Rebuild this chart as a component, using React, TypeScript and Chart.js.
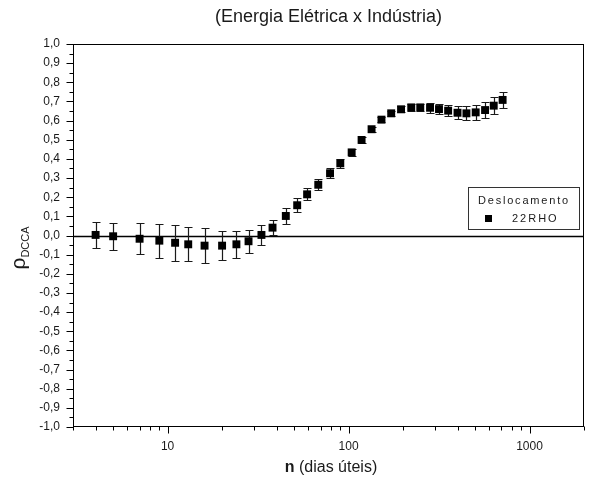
import React, { useEffect, useRef } from 'react';
import { Chart, registerables } from 'chart.js';

Chart.register(...registerables);

// ---- data ----
const nDays = [4, 5, 7, 9, 11, 13, 16, 20, 24, 28, 33, 38, 45, 52, 59, 68, 79, 90, 104, 118, 134, 152, 172, 195, 222, 249, 282, 316, 355, 400, 448, 504, 568, 634, 710];
const rhoDCCA = [0.003, -0.004, -0.017, -0.027, -0.038, -0.046, -0.053, -0.053, -0.046, -0.030, 0.003, 0.041, 0.102, 0.158, 0.215, 0.265, 0.325, 0.377, 0.434, 0.499, 0.555, 0.605, 0.638, 0.659, 0.669, 0.669, 0.667, 0.660, 0.652, 0.641, 0.638, 0.643, 0.655, 0.678, 0.708];
const rhoErr = [0.068, 0.070, 0.082, 0.088, 0.093, 0.088, 0.090, 0.076, 0.070, 0.060, 0.053, 0.040, 0.040, 0.036, 0.031, 0.030, 0.025, 0.025, 0.020, 0.015, 0.012, 0.012, 0.012, 0.015, 0.020, 0.020, 0.025, 0.025, 0.030, 0.034, 0.037, 0.040, 0.042, 0.044, 0.040];

const xMajorTicks = [10, 100, 1000];
const xMinorTicks = [3, 4, 5, 6, 7, 8, 9, 20, 30, 40, 50, 60, 70, 80, 90, 200, 300, 400, 500, 600, 700, 800, 900, 2000];
const yMajorTicks = [-1, -0.9, -0.8, -0.7, -0.6, -0.5, -0.4, -0.3, -0.2, -0.1, 0, 0.1, 0.2, 0.3, 0.4, 0.5, 0.6, 0.7, 0.8, 0.9, 1];
const yMinorTicks = [-0.95, -0.85, -0.75, -0.65, -0.55, -0.45, -0.35, -0.25, -0.15, -0.05, 0.05, 0.15, 0.25, 0.35, 0.45, 0.55, 0.65, 0.75, 0.85, 0.95];

const chartTitle = '(Energia Elétrica x Indústria)';
const xTitleBold = 'n';
const xTitleRest = ' (dias úteis)';
const yTitleMain = 'ρ';
const yTitleSub = 'DCCA';
const legendTitle = 'Deslocamento';
const seriesLabel = '22RHO';

const FONT = '"Liberation Sans", Arial, sans-serif';
const INK = '#1a1a1a';

const fmtY = (v: number) => (Math.abs(v) < 1e-9 ? '0,0' : v.toFixed(1).replace('.', ','));

const decorPlugin = {
  id: 'decor',
  beforeDatasetsDraw(chart: any) {
    const { ctx, chartArea: a, scales } = chart;
    const x = scales.x;
    const y = scales.y;
    ctx.save();
    // zero line
    const y0 = Math.round(y.getPixelForValue(0)) + 0.5;
    ctx.strokeStyle = '#000';
    ctx.lineWidth = 1.5;
    ctx.beginPath();
    ctx.moveTo(a.left, y0);
    ctx.lineTo(a.right, y0);
    ctx.stroke();
    // error bars
    ctx.strokeStyle = '#1a1a1a';
    ctx.lineWidth = 1.2;
    const cap = 4;
    nDays.forEach((n, i) => {
      const px = Math.round(x.getPixelForValue(n)) + 0.5;
      const top = Math.round(y.getPixelForValue(rhoDCCA[i] + rhoErr[i])) + 0.5;
      const bot = Math.round(y.getPixelForValue(rhoDCCA[i] - rhoErr[i])) + 0.5;
      ctx.beginPath();
      ctx.moveTo(px, top);
      ctx.lineTo(px, bot);
      ctx.moveTo(px - cap, top);
      ctx.lineTo(px + cap, top);
      ctx.moveTo(px - cap, bot);
      ctx.lineTo(px + cap, bot);
      ctx.stroke();
    });
    ctx.restore();
  },
  afterDraw(chart: any) {
    const { ctx, chartArea: a, scales } = chart;
    const x = scales.x;
    const y = scales.y;
    ctx.save();
    // frame
    ctx.strokeStyle = '#000';
    ctx.lineWidth = 1;
    ctx.strokeRect(a.left + 0.5, a.top + 0.5, a.right - a.left - 1, a.bottom - a.top - 1);
    // ticks
    ctx.beginPath();
    const yb = a.bottom - 0.5;
    xMajorTicks.forEach((v) => {
      const p = Math.round(x.getPixelForValue(v)) + 0.5;
      ctx.moveTo(p, yb);
      ctx.lineTo(p, yb + 7);
    });
    xMinorTicks.forEach((v) => {
      const p = Math.round(x.getPixelForValue(v)) + 0.5;
      ctx.moveTo(p, yb);
      ctx.lineTo(p, yb + 4);
    });
    const xl = a.left + 0.5;
    yMajorTicks.forEach((v) => {
      const p = Math.round(y.getPixelForValue(v)) + 0.5;
      ctx.moveTo(xl, p);
      ctx.lineTo(xl - 7, p);
    });
    yMinorTicks.forEach((v) => {
      const p = Math.round(y.getPixelForValue(v)) + 0.5;
      ctx.moveTo(xl, p);
      ctx.lineTo(xl - 4, p);
    });
    ctx.stroke();

    // title
    ctx.fillStyle = INK;
    ctx.textBaseline = 'middle';
    ctx.textAlign = 'center';
    ctx.font = `18px ${FONT}`;
    ctx.fillText(chartTitle, (a.left + a.right) / 2, 17);

    // x axis title
    ctx.textAlign = 'left';
    ctx.font = `bold 16px ${FONT}`;
    const wb = ctx.measureText(xTitleBold).width;
    ctx.font = `16px ${FONT}`;
    const wr = ctx.measureText(xTitleRest).width;
    const cx = 331;
    const sx = cx - (wb + wr) / 2;
    const ty = 468;
    ctx.font = `bold 16px ${FONT}`;
    ctx.fillText(xTitleBold, sx, ty);
    ctx.font = `16px ${FONT}`;
    ctx.fillText(xTitleRest, sx + wb, ty);

    // y axis title (rotated)
    ctx.save();
    ctx.translate(25, 248);
    ctx.rotate(-Math.PI / 2);
    ctx.textBaseline = 'alphabetic';
    ctx.font = `21px ${FONT}`;
    const wm = ctx.measureText(yTitleMain).width;
    ctx.font = `11px ${FONT}`;
    const ws = ctx.measureText(yTitleSub).width;
    const start = -(wm + ws) / 2;
    ctx.font = `21px ${FONT}`;
    ctx.fillText(yTitleMain, start, 0);
    ctx.font = `11px ${FONT}`;
    ctx.fillText(yTitleSub, start + wm, 4);
    ctx.restore();

    // legend
    ctx.strokeStyle = '#333';
    ctx.lineWidth = 1;
    ctx.strokeRect(468.5, 187.5, 111, 42);
    ctx.fillStyle = INK;
    ctx.font = `11px ${FONT}`;
    ctx.textAlign = 'left';
    ctx.textBaseline = 'middle';
    (ctx as any).letterSpacing = '1.8px';
    ctx.fillText(legendTitle, 478, 200.5);
    (ctx as any).letterSpacing = '2px';
    ctx.fillText(seriesLabel, 512, 218.5);
    (ctx as any).letterSpacing = '0px';
    ctx.fillStyle = '#000';
    ctx.fillRect(485, 215, 7, 7);

    ctx.restore();
  },
};

export default function App() {
  const ref = useRef<HTMLCanvasElement>(null);
  useEffect(() => {
    const canvas = ref.current;
    if (!canvas) return;
    const chart = new Chart(canvas, {
      type: 'scatter',
      data: {
        datasets: [
          {
            label: seriesLabel,
            data: nDays.map((n, i) => ({ x: n, y: rhoDCCA[i] })),
            pointStyle: 'rect',
            pointRadius: 5.6,
            pointHoverRadius: 5.6,
            backgroundColor: '#000',
            borderColor: '#000',
            borderWidth: 0,
            showLine: false,
          },
        ],
      },
      options: {
        animation: false,
        responsive: false,
        devicePixelRatio: 1,
        layout: { padding: { left: 0, top: 44, right: 8, bottom: 0 } },
        plugins: {
          legend: { display: false },
          tooltip: { enabled: false },
          title: { display: false },
        },
        scales: {
          x: {
            type: 'logarithmic',
            min: 3,
            max: 2000,
            afterBuildTicks: (s: any) => {
              s.ticks = xMajorTicks.map((v) => ({ value: v }));
            },
            afterFit: (s: any) => {
              s.height = 58;
            },
            grid: { display: false, drawTicks: false },
            border: { display: false },
            ticks: {
              autoSkip: false,
              maxRotation: 0,
              padding: 12,
              color: INK,
              font: { family: FONT, size: 12 },
              callback: (v: any) => String(v),
            },
          },
          y: {
            type: 'linear',
            min: -1,
            max: 1,
            afterBuildTicks: (s: any) => {
              s.ticks = yMajorTicks.map((v) => ({ value: v }));
            },
            afterFit: (s: any) => {
              s.width = 73;
            },
            grid: { display: false, drawTicks: false },
            border: { display: false },
            ticks: {
              autoSkip: false,
              padding: 13,
              color: INK,
              font: { family: FONT, size: 12 },
              callback: (v: any) => fmtY(Number(v)),
            },
          },
        },
      },
      plugins: [decorPlugin],
    });
    return () => chart.destroy();
  }, []);
  return (
    <div style={{ position: 'absolute', left: 0, top: 0, width: 592, height: 485, background: '#fff' }}>
      <canvas ref={ref} width={592} height={485} style={{ display: 'block' }} />
    </div>
  );
}
